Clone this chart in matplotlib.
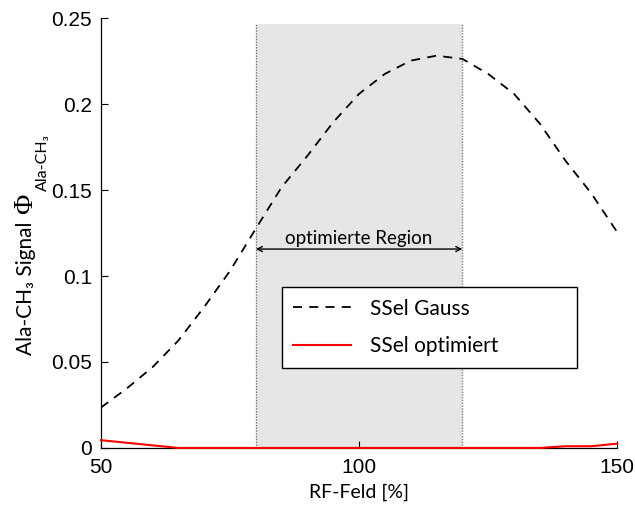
import numpy as np
import matplotlib
matplotlib.use("Agg")
import matplotlib.pyplot as plt

# RF field scaling in percent of nominal
rf_field = [50, 55, 60, 65, 70, 75, 80, 85, 90, 95, 100,
            105, 110, 115, 120, 125, 130, 135, 140, 145, 150]

# Ala-CH3 signal for the Gaussian selective pulse
signal_gauss = [0.0235, 0.0346, 0.047, 0.0625, 0.082, 0.103, 0.1276,
                0.1517, 0.170, 0.1895, 0.206, 0.2176, 0.2253, 0.2282,
                0.2263, 0.2176, 0.206, 0.1887, 0.167, 0.148, 0.1255]

# Ala-CH3 signal for the optimized selective pulse
signal_opt = [0.0045, 0.003, 0.0015, 0.0, 0.0, 0.0, 0.0, 0.0, 0.0, 0.0, 0.0,
              0.0, 0.0, 0.0, 0.0, 0.0, 0.0, 0.0, 0.001, 0.001, 0.0025]

region = (80, 120)
region_top = 0.2465
x_ticks = [50, 100, 150]
y_ticks = [0, 0.05, 0.1, 0.15, 0.2, 0.25]
y_tick_labels = ["0", "0.05", "0.1", "0.15", "0.2", "0.25"]

text_font = ["Lato", "DejaVu Sans"]
tick_font = ["Liberation Sans", "DejaVu Sans"]
symbol_font = ["Liberation Serif", "DejaVu Serif"]

W, H = 635, 505
fig = plt.figure(figsize=(W / 100, H / 100), dpi=100)
ax = fig.add_axes([0.159, 0.113, 0.813, 0.851])

# optimisation window
ax.fill_between(region, 0, region_top, color="#e6e6e6", lw=0, zorder=0)
for xr in region:
    ax.plot([xr, xr], [0, region_top], color="#7a7a7a", lw=1.0,
            linestyle=(0, (1, 1)), zorder=1)

ax.plot(rf_field, signal_gauss, color="black", lw=1.3,
        dashes=(5, 4), label="SSel Gauss", zorder=3)
ax.plot(rf_field, signal_opt, color="red", lw=1.5,
        label="SSel optimiert", zorder=4, clip_on=False)

ax.annotate("", xy=(region[0], 0.1157), xytext=(region[1], 0.1157),
            arrowprops=dict(arrowstyle="<->", color="black", lw=1.0,
                            shrinkA=0, shrinkB=0, mutation_scale=9))
ax.text(sum(region) / 2, 0.1168, "optimierte Region", ha="center",
        va="bottom", fontsize=13.5, family=text_font)

ax.set_xlim(50, 150)
ax.set_ylim(0, 0.25)
ax.set_xticks(x_ticks)
ax.set_yticks(y_ticks)
ax.set_yticklabels(y_tick_labels)
for lbl in ax.get_xticklabels() + ax.get_yticklabels():
    lbl.set_family(tick_font)
    lbl.set_fontsize(15)
ax.tick_params(direction="in", length=5, width=0.8)
ax.tick_params(axis="x", pad=7)
ax.tick_params(axis="y", pad=6.5)
ax.spines["top"].set_visible(False)
ax.spines["right"].set_visible(False)
for s in ("left", "bottom"):
    ax.spines[s].set_linewidth(0.9)

ax.set_xlabel("RF-Feld [%]", fontsize=14, family=text_font, labelpad=5)

leg = ax.legend(loc="upper left", bbox_to_anchor=(0.35, 0.374, 0.572, 0.0),
                mode="expand", borderaxespad=0, fancybox=False,
                framealpha=1, edgecolor="black", handlelength=2.8,
                handletextpad=0.9, borderpad=0.55, labelspacing=0.85,
                prop={"family": text_font, "size": 15})
leg.get_frame().set_linewidth(1.0)

# y-axis label built from three rotated pieces laid end to end
label_kw = dict(rotation=90, rotation_mode="anchor", ha="left",
                va="baseline")
base_x = 32 / W
t_main = fig.text(base_x, 1 - 355 / H, "Ala-CH₃ Signal", fontsize=15,
                  family=text_font, **label_kw)
fig.canvas.draw()
renderer = fig.canvas.get_renderer()
inv = fig.transFigure.inverted()

top_main = inv.transform((0, t_main.get_window_extent(renderer).y1))[1]
t_phi = fig.text(base_x, top_main + 7 / H, "Φ", fontsize=20,
                 family=symbol_font, **label_kw)
fig.canvas.draw()
top_phi = inv.transform((0, t_phi.get_window_extent(renderer).y1))[1]
fig.text(47 / W, top_phi + 3 / H, "Ala-CH₃", fontsize=11.5,
         family=text_font, **label_kw)

fig.savefig("out.png", dpi=100)
